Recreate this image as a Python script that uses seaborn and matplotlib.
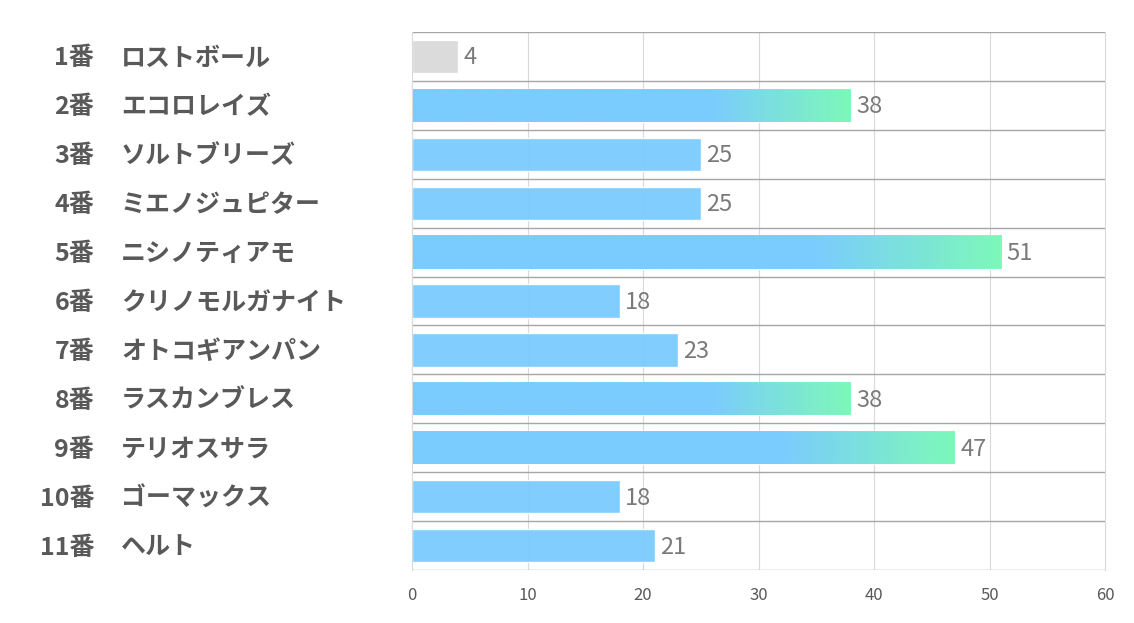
import matplotlib.pyplot as plt
import matplotlib.transforms as mtrans
import numpy as np
import pandas as pd
import seaborn as sns
from matplotlib.colors import LinearSegmentedColormap

# data
numbers = ['1番', '2番', '3番', '4番', '5番', '6番', '7番', '8番', '9番', '10番', '11番']
horses = ['ロストボール', 'エコロレイズ', 'ソルトブリーズ', 'ミエノジュピター', 'ニシノティアモ',
          'クリノモルガナイト', 'オトコギアンパン', 'ラスカンブレス', 'テリオスサラ', 'ゴーマックス', 'ヘルト']
values = [4, 38, 25, 25, 51, 18, 23, 38, 47, 18, 21]
gray_horses = ['ロストボール']
ticks = [0, 10, 20, 30, 40, 50, 60]

df = pd.DataFrame({'horse': horses, 'value': values})

sns.set_style('white')
plt.rcParams['font.family'] = ['Noto Sans CJK JP', 'DejaVu Sans']

blue = '#7accfe'
green = '#7dfbb6'
fig = plt.figure(figsize=(11.34, 6.23), dpi=100)
ax = fig.add_axes([412 / 1134, 1 - 570 / 623, 693 / 1134, 538 / 623])

pal = ['#d9d9d9' if h in gray_horses else blue for h in horses]
sns.barplot(data=df, x='value', y='horse', hue='horse', palette=pal, legend=False,
            saturation=1, width=0.68, alpha=0.95, ax=ax, zorder=2)

# gradient overlay on long bars
cmap = LinearSegmentedColormap.from_list('bg', [(0, blue), (0.68, blue), (1, green)])
grad = np.linspace(0, 1, 256).reshape(1, -1)
for patch, v in zip(ax.patches, values):
    if v >= 30:
        x0, y0 = patch.get_x(), patch.get_y()
        w, h = patch.get_width(), patch.get_height()
        im = ax.imshow(grad, cmap=cmap, aspect='auto', extent=(x0, x0 + w, y0 + h, y0),
                       alpha=0.95, zorder=2.5)
        im.set_clip_path(patch)
ax.set_xlim(0, 60)
ax.set_ylim(len(horses) - 0.5, -0.5)

# grid
for t in ticks[1:-1]:
    ax.axvline(t, color='#d9d9d9', lw=0.8, zorder=1)
for k in range(len(horses) + 1):
    ax.axhline(k - 0.5, color='#a6a6a6', lw=1.0, zorder=1)
for s in ['top', 'bottom']:
    ax.spines[s].set_visible(False)
for s in ['left', 'right']:
    ax.spines[s].set_color('#d9d9d9')
    ax.spines[s].set_linewidth(0.8)

# value labels
for i, v in enumerate(values):
    ax.text(v + 0.45, i + 0.03, str(v), va='center', ha='left', fontsize=17,
            color='#7a7a7a', zorder=4)

ax.set_xticks(ticks)
ax.set_xticklabels([str(t) for t in ticks], fontsize=12, color='#595959')
ax.tick_params(axis='x', length=0, pad=12)
ax.set_yticks([])
ax.set_xlabel('')
ax.set_ylabel('')

# two-part category labels
tr = mtrans.blended_transform_factory(fig.transFigure, ax.transData)
for i, (n, h) in enumerate(zip(numbers, horses)):
    ax.text(94 / 1134, i + 0.04, n, transform=tr, ha='right', va='center', fontsize=18,
            fontweight='bold', color='#595959')
    ax.text(121 / 1134, i + 0.04, h, transform=tr, ha='left', va='center', fontsize=18,
            fontweight='bold', color='#595959')

fig.savefig('out.png', dpi=100)
